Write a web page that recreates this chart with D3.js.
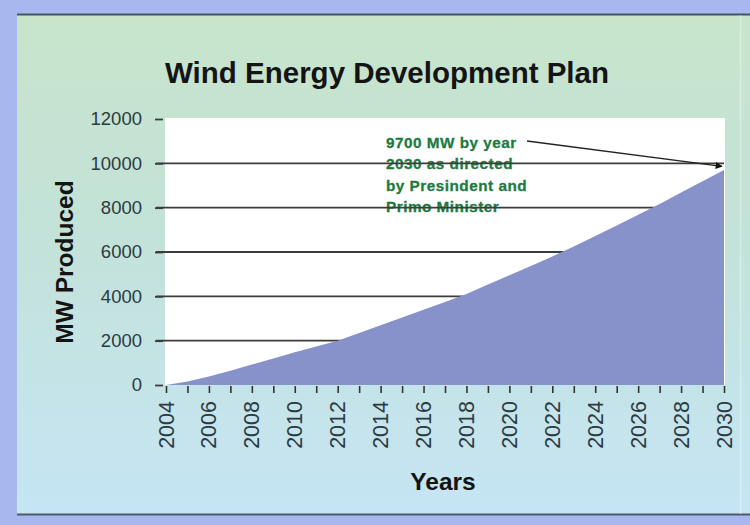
<!DOCTYPE html>
<html>
<head>
<meta charset="utf-8">
<script src="https://cdn.jsdelivr.net/npm/d3@7"></script>
<style>
  html, body { margin: 0; padding: 0; background: #a8b8ef; }
  svg { display: block; font-family: "Liberation Sans", Arial, sans-serif; }
</style>
</head>
<body>
<svg id="chart" width="750" height="525"></svg>
<script>
// ---- data ----
const years = [2004, 2005, 2006, 2007, 2008, 2009, 2010, 2011, 2012, 2013, 2014, 2015, 2016,
               2017, 2018, 2019, 2020, 2021, 2022, 2023, 2024, 2025, 2026, 2027, 2028, 2029, 2030];
const mwProduced = [0, 160, 380, 640, 920, 1200, 1480, 1740, 2000, 2350, 2700, 3050, 3400,
                    3750, 4110, 4530, 4950, 5370, 5800, 6250, 6720, 7200, 7680, 8170, 8680, 9190, 9700];
const yTickValues = [0, 2000, 4000, 6000, 8000, 10000, 12000];
const xTickLabels = [2004, 2006, 2008, 2010, 2012, 2014, 2016, 2018, 2020, 2022, 2024, 2026, 2028, 2030];
const titleText = "Wind Energy Development Plan";
const yAxisTitle = "MW Produced";
const xAxisTitle = "Years";
const noteLines = ["9700 MW by year", "2030 as directed", "by Presindent and", "Primo Minister"];
const noteTarget = { year: 2030, value: 10000 };

// ---- layout ----
const svg = d3.select("#chart");
const W = 750, H = 525;
const plot = { left: 166, right: 724, top: 119, bottom: 385 };

const x = d3.scaleLinear().domain([2004, 2030]).range([plot.left, plot.right]);
const y = d3.scaleLinear().domain([0, 12000]).range([plot.bottom, plot.top]);

// background gradient
const defs = svg.append("defs");
const grad = defs.append("linearGradient").attr("id", "bg").attr("x1", 0).attr("y1", 0).attr("x2", 0).attr("y2", 1);
grad.append("stop").attr("offset", "0%").attr("stop-color", "#c7e4cb");
grad.append("stop").attr("offset", "45%").attr("stop-color", "#c3e2d9");
grad.append("stop").attr("offset", "100%").attr("stop-color", "#c6e5f5");

defs.append("marker").attr("id", "arrow").attr("viewBox", "0 0 10 10")
  .attr("refX", 9).attr("refY", 5).attr("markerWidth", 9).attr("markerHeight", 7)
  .attr("markerUnits", "userSpaceOnUse").attr("orient", "auto")
  .append("path").attr("d", "M0,0 L10,5 L0,10 z").attr("fill", "#111");

svg.append("rect").attr("width", W).attr("height", H).attr("fill", "#a8b8ef");
svg.append("rect").attr("x", 17).attr("y", 14).attr("width", W - 17).attr("height", 501).attr("fill", "url(#bg)");
svg.append("line").attr("x1", 17).attr("x2", W).attr("y1", 14.5).attr("y2", 14.5).attr("stroke", "#41565f").attr("stroke-width", 2);
svg.append("line").attr("x1", 17).attr("x2", W).attr("y1", 514.5).attr("y2", 514.5).attr("stroke", "#4c5b66").attr("stroke-width", 2);
svg.append("line").attr("x1", 740.5).attr("x2", 740.5).attr("y1", 15).attr("y2", 514).attr("stroke", "#ffffff").attr("stroke-opacity", 0.35).attr("stroke-width", 1.5);

// white plot background
svg.append("rect").attr("x", plot.left - 1).attr("y", plot.top - 1)
  .attr("width", plot.right - plot.left + 2).attr("height", plot.bottom - plot.top + 1)
  .attr("fill", "#ffffff");

// title
svg.append("text").attr("x", 387).attr("y", 83).attr("text-anchor", "middle")
  .attr("font-size", 29.5).attr("font-weight", "bold").attr("fill", "#141414")
  .text(titleText);

// annotation text (under gridlines)
const note = svg.append("text").attr("x", 386).attr("y", 148)
  .attr("font-size", 15.3).attr("font-weight", "bold").attr("fill", "#1e7b3f")
  .attr("stroke", "#1e7b3f").attr("stroke-width", 0.3)
  .attr("letter-spacing", 0.5);
noteLines.forEach((t, i) => {
  note.append("tspan").attr("x", 386).attr("y", 148 + i * 21.3).text(t);
});

// gridlines
svg.append("g").selectAll("line")
  .data(yTickValues.filter(v => v > 0 && v < 12000))
  .join("line")
  .attr("x1", plot.left - 10).attr("x2", plot.right)
  .attr("y1", d => y(d)).attr("y2", d => y(d))
  .attr("stroke", "#3c3c3c").attr("stroke-width", 1.8);

// y axis
const yAxis = svg.append("g").attr("transform", `translate(${plot.left - 3},0)`)
  .call(d3.axisLeft(y).tickValues(yTickValues).tickSize(8).tickPadding(13).tickFormat(d3.format("d")));
yAxis.select(".domain").remove();
yAxis.selectAll(".tick line").attr("stroke", "#3c3c3c").attr("stroke-width", 1.8);
yAxis.selectAll(".tick text").attr("font-size", 18.5).attr("fill", "#2c3a42")
  .attr("font-family", "'Liberation Sans', Arial, sans-serif");

// area
const area = d3.area().x((d, i) => x(years[i])).y0(y(0)).y1(d => y(d));
svg.append("path").datum(mwProduced).attr("d", area).attr("fill", "#8892ca");

// x axis
const xAxis = svg.append("g").attr("transform", `translate(0,${plot.bottom + 1})`)
  .call(d3.axisBottom(x).tickValues(years).tickSize(7).tickFormat(""));
xAxis.select(".domain").remove();
xAxis.selectAll(".tick line").attr("stroke", "#333").attr("stroke-width", 1.6);

svg.append("g").selectAll("text")
  .data(xTickLabels)
  .join("text")
  .attr("transform", d => `translate(${x(d) + 7.5},401) rotate(-90)`)
  .attr("text-anchor", "end")
  .attr("font-size", 21.5).attr("fill", "#2c3a42")
  .text(d => d);

// axis titles
svg.append("text").attr("transform", "translate(73,262) rotate(-90)")
  .attr("text-anchor", "middle").attr("font-size", 24.5).attr("font-weight", "bold").attr("fill", "#141414")
  .text(yAxisTitle);
svg.append("text").attr("x", 443).attr("y", 490).attr("text-anchor", "middle")
  .attr("font-size", 24.5).attr("font-weight", "bold").attr("fill", "#141414")
  .text(xAxisTitle);

// arrow
svg.append("line").attr("x1", 527).attr("y1", 141)
  .attr("x2", x(noteTarget.year) - 2).attr("y2", y(noteTarget.value) + 3)
  .attr("stroke", "#222").attr("stroke-width", 1.4).attr("marker-end", "url(#arrow)");
</script>
</body>
</html>
